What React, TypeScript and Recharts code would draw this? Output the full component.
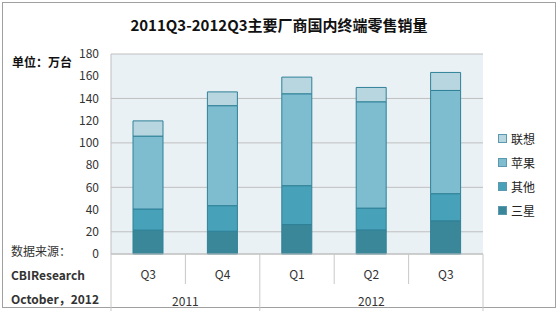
import React from 'react';
import { BarChart, Bar, XAxis, YAxis, CartesianGrid } from 'recharts';

const quarters = ['Q3', 'Q4', 'Q1', 'Q2', 'Q3'];
const years = [
  { label: '2011', span: 2 },
  { label: '2012', span: 3 },
];
const samsung = [21.5, 20.5, 26.5, 21.7, 29.9];
const others = [19, 23, 35, 19.6, 24.4];
const apple = [65.6, 90, 82.7, 95.7, 92.9];
const lenovo = [13.7, 12.4, 15, 12.9, 16.2];
const yTicks = [0, 20, 40, 60, 80, 100, 120, 140, 160, 180];

const series = [
  { key: 'samsung', name: '三星', color: '#3A8799' },
  { key: 'others', name: '其他', color: '#46A1B9' },
  { key: 'apple', name: '苹果', color: '#7EBCD0' },
  { key: 'lenovo', name: '联想', color: '#B8D6E0' },
];

const data = quarters.map((q, i) => ({
  q: `${q}-${i}`,
  label: q,
  samsung: samsung[i],
  others: others[i],
  apple: apple[i],
  lenovo: lenovo[i],
}));

const FONT = '"Noto Sans CJK SC", "Open Sans", sans-serif';
const BAND = (483 - 111) / quarters.length;

// year group starts, used for the long separators and group labels
const groupStarts: number[] = [];
let acc = 0;
years.forEach((y) => {
  groupStarts.push(acc);
  acc += y.span;
});

const QuarterTick = (props: any) => {
  const { x, y, index } = props;
  const left = x - BAND / 2;
  const isGroupStart = groupStarts.includes(index);
  const gi = groupStarts.indexOf(index);
  const last = index === quarters.length - 1;
  return (
    <g>
      <line x1={left} y1={y} x2={left} y2={isGroupStart ? y + 57 : y + 30} stroke="#C8C8C8" />
      {last && <line x1={left + BAND} y1={y} x2={left + BAND} y2={y + 57} stroke="#C8C8C8" />}
      <text x={x} y={y + 25} textAnchor="middle" fontSize={12} fill="#333" fontFamily={FONT}>
        {data[index].label}
      </text>
      {gi >= 0 && (
        <text
          x={left + (years[gi].span * BAND) / 2}
          y={y + 52}
          textAnchor="middle"
          fontSize={12}
          fill="#333"
          fontFamily={FONT}
        >
          {years[gi].label}
        </text>
      )}
    </g>
  );
};

const App: React.FC = () => {
  return (
    <div
      style={{
        position: 'fixed',
        left: 0,
        top: 0,
        width: 558,
        height: 311,
        background: '#fff',
        fontFamily: FONT,
      }}
    >
      <div
        style={{
          position: 'absolute',
          left: 2,
          top: 2,
          width: 552,
          height: 304,
          border: '1px solid #A0A0A0',
        }}
      />
      <div
        style={{
          position: 'absolute',
          left: 0,
          width: 558,
          top: 14,
          textAlign: 'center',
          fontSize: 15,
          fontWeight: 'bold',
          color: '#111',
        }}
      >
        2011Q3-2012Q3主要厂商国内终端零售销量
      </div>
      <div style={{ position: 'absolute', left: 12, top: 53, fontSize: 12, fontWeight: 'bold', color: '#111' }}>
        单位：万台
      </div>
      <div style={{ position: 'absolute', left: 11, top: 239, fontSize: 12, color: '#333', lineHeight: '24px' }}>
        <div>数据来源：</div>
        <div style={{ fontWeight: 'bold' }}>CBIResearch</div>
        <div style={{ fontWeight: 'bold' }}>October，2012</div>
      </div>
      <div style={{ position: 'absolute', left: 498, top: 126 }}>
        {[...series].reverse().map((s) => (
          <div key={s.key} style={{ display: 'flex', alignItems: 'center', height: 24 }}>
            <span
              style={{
                width: 7,
                height: 7,
                background: s.color,
                border: '1px solid #5B9AAE',
                marginRight: 4,
                display: 'inline-block',
              }}
            />
            <span style={{ fontSize: 12, color: '#222' }}>{s.name}</span>
          </div>
        ))}
      </div>
      <BarChart
        width={558}
        height={311}
        data={data}
        margin={{ top: 54, right: 75, left: 0, bottom: 0 }}
        barSize={30}
        style={{ position: 'absolute', left: 0, top: 0 }}
      >
        <CartesianGrid vertical={false} stroke="#BFBFBF" fill="#EAF1F5" fillOpacity={1} />
        <XAxis
          dataKey="q"
          height={57}
          axisLine={{ stroke: '#BFBFBF' }}
          tickLine={false}
          tickSize={0}
          tickMargin={0}
          tick={<QuarterTick />}
          interval={0}
        />
        <YAxis
          width={111}
          domain={[0, 180]}
          ticks={yTicks}
          axisLine={{ stroke: '#BFBFBF' }}
          tickLine={false}
          tick={{ fontSize: 12, fill: '#333', fontFamily: FONT }}
          tickMargin={6}
        />
        {series.map((s) => (
          <Bar
            key={s.key}
            dataKey={s.key}
            name={s.name}
            stackId="a"
            fill={s.color}
            stroke="#2F8197"
            strokeWidth={1}
            isAnimationActive={false}
          />
        ))}
      </BarChart>
    </div>
  );
};

export default App;
